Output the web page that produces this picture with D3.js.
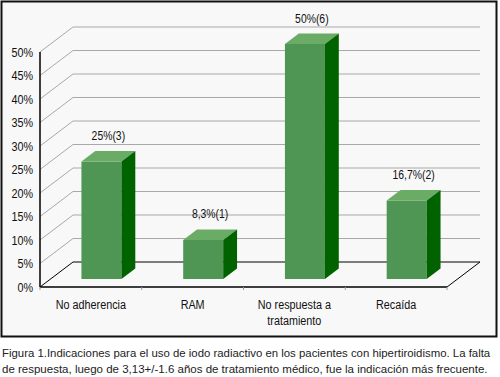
<!DOCTYPE html>
<html><head><meta charset="utf-8">
<script src="https://cdn.jsdelivr.net/npm/d3@7"></script>
<style>
html,body{margin:0;padding:0;background:#fff;}
svg{display:block;}
</style></head>
<body>
<svg id="chart" width="500" height="377"></svg>
<script>
const categories = [["No adherencia"], ["RAM"], ["No respuesta a", "tratamiento"], ["Recaída"]];
const values = [25, 8.3, 50, 16.7];
const valueLabels = ["25%(3)", "8,3%(1)", "50%(6)", "16,7%(2)"];
const yTicks = [0, 5, 10, 15, 20, 25, 30, 35, 40, 45, 50];
const caption = [
  "Figura 1.Indicaciones para el uso de iodo radiactivo en los pacientes con hipertiroidismo. La falta",
  "de respuesta, luego de 3,13+/-1.6 años de tratamiento médico, fue la indicación más frecuente."
];

const svg = d3.select("#chart");
const FONT = "Liberation Sans, Arial, sans-serif";
const SX = 0.8; // horizontal compression to mimic a narrow face
function narrowText(parent, px, py, str, size, anchor) {
  return parent.append("text")
    .attr("transform", `translate(${px},${py}) scale(${SX},1)`)
    .attr("font-family", FONT).attr("font-size", size)
    .attr("text-anchor", anchor).attr("fill", "#111").text(str);
}

// frame
svg.append("rect").attr("x",1.5).attr("y",1.5).attr("width",495).attr("height",335)
  .attr("fill","#f8f8f8").attr("stroke","#111").attr("stroke-width",2);

const x = d3.scaleBand().domain(d3.range(categories.length)).range([40,447]).padding(0);
const y = d3.scaleLinear().domain([0,50]).range([287,52]);
const D = [33,-25]; // depth vector
const P = (px, v, f) => [px + f*D[0], y(v) + f*D[1]];
const fFront = 0.32, fBack = 0.74;
const barW = 40;

const g = svg.append("g");
yTicks.forEach(t => {
  const a = P(40,t,0), b = P(40,t,1), c = P(447,t,1);
  const col = t === 0 ? "#000" : "#a8a8a8";
  g.append("line").attr("x1",a[0]).attr("y1",a[1]).attr("x2",b[0]).attr("y2",b[1]).attr("stroke",col);
  g.append("line").attr("x1",b[0]).attr("y1",b[1]).attr("x2",c[0]).attr("y2",c[1]).attr("stroke",col);
});
{
  const a = P(447,0,0), b = P(447,0,1);
  g.append("line").attr("x1",a[0]).attr("y1",a[1]).attr("x2",b[0]).attr("y2",b[1]).attr("stroke","#000");
  g.append("line").attr("x1",40).attr("y1",y(0)).attr("x2",447).attr("y2",y(0)).attr("stroke","#000").attr("stroke-width",1.3);
}
g.append("line").attr("x1",40).attr("y1",y(50)).attr("x2",40).attr("y2",y(0)).attr("stroke","#000").attr("stroke-width",1.5);
d3.range(categories.length+1).forEach(i => {
  const px = 40 + i*x.step();
  g.append("line").attr("x1",px).attr("y1",y(0)).attr("x2",px).attr("y2",y(0)+3).attr("stroke","#999");
});
yTicks.forEach(t => narrowText(g, 33, y(t)+4.5, t+"%", 13.5, "end"));

values.forEach((v,i) => {
  const cx = x(i) + x.bandwidth()/2;
  const l = cx - barW/2, r = cx + barW/2;
  const fl0 = P(l,0,fFront), fr0 = P(r,0,fFront), flv = P(l,v,fFront), frv = P(r,v,fFront);
  const bl = P(l,v,fBack), br = P(r,v,fBack), br0 = P(r,0,fBack);
  const poly = pts => pts.map(p=>p.join(",")).join(" ");
  g.append("polygon").attr("points",poly([fl0,flv,frv,fr0])).attr("fill","#4f9655");
  g.append("polygon").attr("points",poly([flv,bl,br,frv])).attr("fill","#6aab66");
  g.append("polygon").attr("points",poly([fr0,frv,br,br0])).attr("fill","#006300");
  narrowText(g, (flv[0]+br[0])/2, bl[1]-11, valueLabels[i], 13, "middle");
});

categories.forEach((lines,i) => {
  const cx = x(i) + x.bandwidth()/2;
  lines.forEach((s,j) => narrowText(g, cx, 308.5 + j*16, s, 13.5, "middle"));
});

// caption: shrink font until it fits the width
caption.forEach((s,j) => {
  const t = svg.append("text").attr("x",2).attr("y",357 + j*16)
    .attr("font-family",FONT).attr("font-size",13.5).attr("fill","#222").text(s);
  const target = j===0 ? 492 : 488;
  let fs = 13.5;
  while (t.node().getComputedTextLength() > target && fs > 8) { fs -= 0.1; t.attr("font-size", fs); }
});
</script>
</body></html>
